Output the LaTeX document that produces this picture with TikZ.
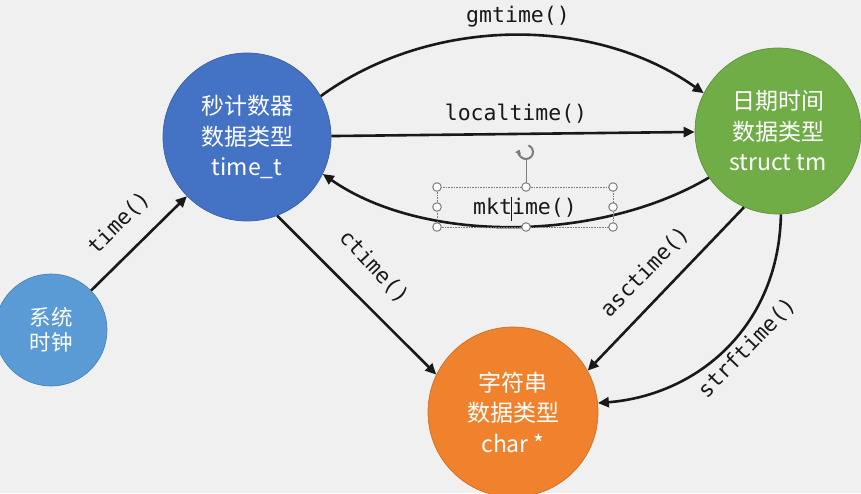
\documentclass[tikz,border=0pt]{standalone}
\usepackage{fontspec}
\setmainfont{Noto Sans CJK SC}
\newfontfamily\monofont{DejaVu Sans Mono}
\usetikzlibrary{arrows.meta}
\definecolor{bg}{RGB}{240,240,240}
\definecolor{cclock}{RGB}{91,155,213}
\definecolor{csec}{RGB}{68,114,196}
\definecolor{cgm}{RGB}{112,173,71}
\definecolor{cstr}{RGB}{240,130,45}
\definecolor{ink}{RGB}{25,25,25}
\definecolor{handle}{RGB}{125,125,125}
\tikzset{
  bubble/.style={circle, inner sep=0pt, text=white, align=center, line width=0.7pt},
  big/.style={font=\fontsize{23}{30.5}\selectfont},
  conn/.style={draw=ink, line width=2.6pt, -{Triangle[length=11pt,width=10pt]}},
  fn/.style={text=ink, font=\monofont\fontsize{21.5}{24}\selectfont, inner sep=0pt},
  hdl/.style={circle, draw=handle, fill=white, line width=1pt, minimum size=8.5pt, inner sep=0pt},
}
\begin{document}
\begin{tikzpicture}[x=1pt,y=-1pt]
\fill[bg] (0,0) rectangle (861,493);
\useasboundingbox (0,0) rectangle (861,493);

% circles
\node[bubble, fill=cclock, draw=cclock!85!black, minimum size=112pt,
      font=\fontsize{21.5}{25.5}\selectfont] (clock) at (51,330) {系统\\时钟};
\node[bubble, big, fill=csec, draw=csec!85!black, minimum size=168pt] (sec) at (247,137)
      {秒计数器\\数据类型\\time\_t};
\node[bubble, big, fill=cgm, draw=cgm!85!black, minimum size=166pt] (gm) at (778,131)
      {日期时间\\数据类型\\struct tm};
\node[bubble, big, fill=cstr, draw=cstr!85!black, minimum size=170pt] (str) at (513,412)
      {字符串\\数据类型\\char *};

% connectors
\draw[conn] (clock) -- (sec);
\draw[conn] (sec.29) .. controls +(110,-80) and +(-110,-78) .. (gm.153);
\draw[conn] (sec) -- (gm);
\draw[conn] (gm.214) .. controls +(-110,65) and +(100,70) .. (sec.334);
\draw[conn] (sec.291.5) -- (str.154);
\draw[conn] (gm.246) -- (str.29.6);
\draw[conn] (gm.272.6) .. controls +(-2,112) and +(100,-8) .. (str.6);

% labels
\node[fn] (lgm) at (518,17) {gmtime()};
\node[fn] (lloc) at (516,114) {localtime()};
\node[fn] (lmk) at (525,208) {mktime()};
\node[fn, rotate=45] (ltime) at (119,223) {time()};
\node[fn, rotate=-47] (lct) at (374,267) {ctime()};
\node[fn, rotate=46] (lasc) at (645,272) {asctime()};
\node[fn, rotate=46] (lstrf) at (747,348) {strftime()};

% selection frame around mktime()
\coordinate (sA) at (437,187);
\coordinate (sB) at (613,227);
\coordinate (rot) at (526,152);
\draw[handle, densely dotted, line width=0.6pt] (sA) rectangle (sB);
\draw[handle, line width=0.8pt] (526,187) -- (526,160);
\draw[handle, line width=2pt, -{Triangle[length=4pt,width=6pt]}] (rot) ++(70:7pt) arc[start angle=70, end angle=-200, radius=7pt];
\draw[ink, line width=0.8pt] (511,197) -- (511,221);
\foreach \p in {(437,187),(526,187),(613,187),(437,207),(613,207),(437,227),(526,227),(613,227)}
  \node[hdl] at \p {};
\end{tikzpicture}
\end{document}
